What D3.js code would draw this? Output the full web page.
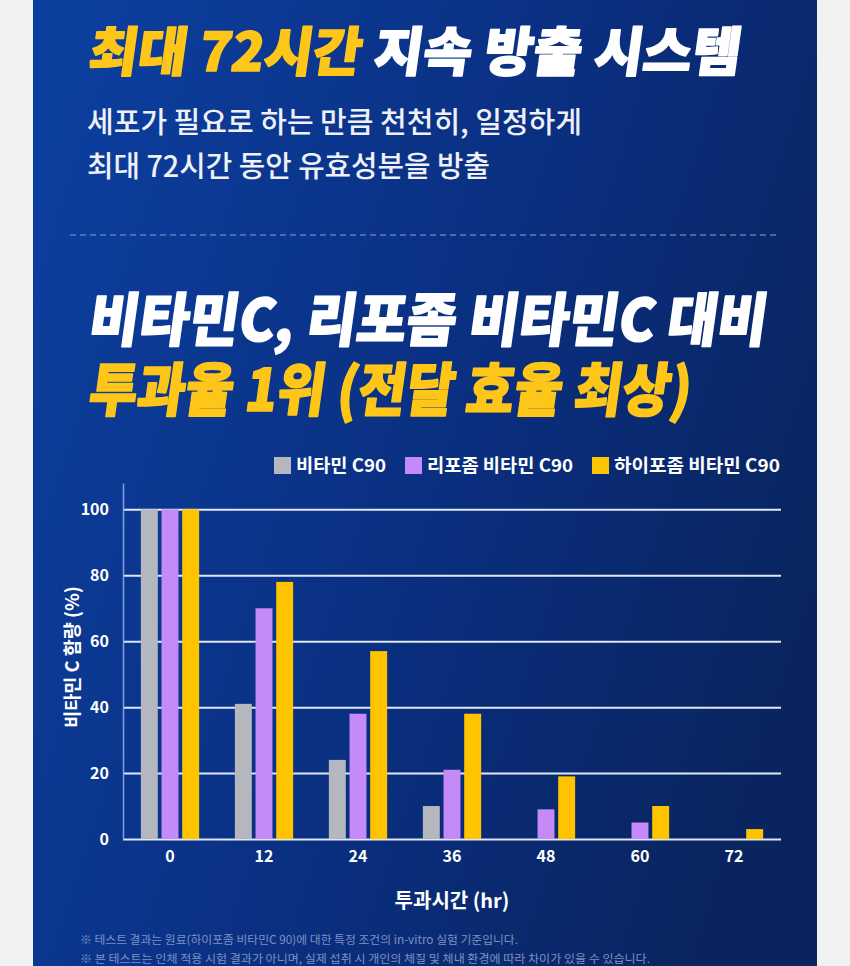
<!DOCTYPE html>
<html>
<head>
<meta charset="utf-8">
<script src="https://cdn.jsdelivr.net/npm/d3@7"></script>
<style>
    body { margin: 0; background: #f1f1f1; }
    svg { display: block; }
</style>
</head>
<body>
<svg id="chart" width="850" height="966"></svg>
<script>
// Data
const hours = ["0", "12", "24", "36", "48", "60", "72"];
const seriesNames = ["비타민 C90", "리포좀 비타민 C90", "하이포좀 비타민 C90"];
const vitaminC = [100, 41, 24, 10, 0, 0, 0];
const liposomeC = [100, 70, 38, 21, 9, 5, 0];
const hyposomeC = [100, 78, 57, 38, 19, 10, 3];
const yTicks = [0, 20, 40, 60, 80, 100];

// Texts
const yTitle = "비타민 C 함량 (%)";
const xTitle = "투과시간 (hr)";
const footnotes = [
    "※ 테스트 결과는 원료(하이포좀 비타민C 90)에 대한 특정 조건의 in-vitro 실험 기준입니다.",
    "※ 본 테스트는 인체 적용 시험 결과가 아니며, 실제 섭취 시 개인의 체질 및 체내 환경에 따라 차이가 있을 수 있습니다."
];

// Style constants
const colors = ["#b4b7be", "#c48af7", "#ffc400"],
        yellow = "#ffc61a",
        font = "'Noto Sans CJK KR', 'Noto Sans', sans-serif";

const margin = {left: 123, right: 781, top: 483, bottom: 839};

var svg = d3.select("#chart");

/**
 * Squeezes a text to a given width (the original fonts are condensed)
 */
function fitText(sel, width) {
    sel.attr("textLength", width).attr("lengthAdjust", "spacingAndGlyphs");
}

// Background panel
var defs = svg.append("defs");
var grad = defs.append("linearGradient")
    .attr("id", "bg").attr("x1", "0").attr("y1", "0.2").attr("x2", "1").attr("y2", "0.6");
grad.append("stop").attr("offset", "0").attr("stop-color", "#0c3e9e");
grad.append("stop").attr("offset", "0.55").attr("stop-color", "#0a2f80");
grad.append("stop").attr("offset", "1").attr("stop-color", "#09245f");

svg.append("rect")
    .attr("x", 33).attr("y", 0)
    .attr("width", 784).attr("height", 966)
    .attr("fill", "url(#bg)");

// Headline 1 (stroke thickens the glyphs a bit)
var h1 = svg.append("g").attr("transform", "translate(87,71) skewX(-8)")
    .append("text")
    .attr("font-family", font).attr("font-weight", 900).attr("font-size", 53)
    .attr("stroke-width", 1.6).attr("stroke-linejoin", "round");
h1.append("tspan").attr("fill", yellow).attr("stroke", yellow).text("최대 72시간 ");
h1.append("tspan").attr("fill", "#ffffff").attr("stroke", "#ffffff").text("지속 방출 시스템");
fitText(h1, 652);

// Sub text
var subLines = ["세포가 필요로 하는 만큼 천천히, 일정하게", "최대 72시간 동안 유효성분을 방출"];
var subWidths = [495, 403];
subLines.forEach(function (s, i) {
    var t = svg.append("text")
        .attr("x", 87).attr("y", 133 + i * 44)
        .attr("font-family", font).attr("font-weight", 500).attr("font-size", 29)
        .attr("fill", "#eef1f8")
        .text(s);
    fitText(t, subWidths[i]);
});

// Dashed separator
svg.append("line")
    .attr("x1", 70).attr("x2", 780).attr("y1", 235).attr("y2", 235)
    .attr("stroke", "#8ea2cc").attr("stroke-width", 1)
    .attr("stroke-dasharray", "6,4");

// Headline 2
var h2a = svg.append("g").attr("transform", "translate(87,341) skewX(-8)")
    .append("text")
    .attr("font-family", font).attr("font-weight", 900).attr("font-size", 58)
    .attr("fill", "#ffffff").attr("stroke", "#ffffff")
    .attr("stroke-width", 1.6).attr("stroke-linejoin", "round")
    .text("비타민C, 리포좀 비타민C 대비");
fitText(h2a, 678);

var h2b = svg.append("g").attr("transform", "translate(87,411) skewX(-8)")
    .append("text")
    .attr("font-family", font).attr("font-weight", 900).attr("font-size", 58)
    .attr("fill", yellow).attr("stroke", yellow)
    .attr("stroke-width", 1.6).attr("stroke-linejoin", "round")
    .text("투과율 1위 (전달 효율 최상)");
fitText(h2b, 602);

// Scales
var x0 = d3.scaleBand()
    .domain(hours)
    .range([margin.left, margin.right])
    .paddingInner(0.38)
    .paddingOuter(0.19);

var x1 = d3.scaleBand()
    .domain(seriesNames)
    .range([0, x0.bandwidth()])
    .paddingInner(0.18);

var y = d3.scaleLinear()
    .domain([0, 108])
    .range([margin.bottom, margin.top]);

// Grid lines
var grid = svg.append("g")
    .attr("transform", "translate(" + margin.left + ",0)")
    .call(d3.axisLeft(y).tickValues(yTicks).tickSize(-(margin.right - margin.left)).tickFormat(""));
grid.select(".domain").remove();
grid.selectAll(".tick line")
    .attr("stroke", "#dfe7f6").attr("stroke-width", 2);

// Bars
var table = hours.map(function (h, i) {
    return {hour: h, values: [vitaminC[i], liposomeC[i], hyposomeC[i]]};
});

var groups = svg.append("g")
    .selectAll("g")
    .data(table)
    .enter()
    .append("g")
    .attr("transform", function (d) { return "translate(" + x0(d.hour) + ",0)"; });

groups.selectAll("rect")
    .data(function (d) {
        return d.values.map(function (v, k) { return {name: seriesNames[k], value: v, k: k}; });
    })
    .enter()
    .append("rect")
    .attr("x", function (d) { return x1(d.name); })
    .attr("y", function (d) { return y(d.value); })
    .attr("width", x1.bandwidth())
    .attr("height", function (d) { return y(0) - y(d.value); })
    .attr("fill", function (d) { return colors[d.k]; });

// Y axis
var yAxis = svg.append("g")
    .attr("transform", "translate(" + margin.left + ",0)")
    .call(d3.axisLeft(y).tickValues(yTicks).tickSize(0).tickSizeOuter(0).tickPadding(14));
yAxis.select(".domain").attr("stroke", "#7fa2e2").attr("stroke-width", 1.5);
yAxis.selectAll("text")
    .attr("fill", "#ffffff")
    .attr("font-family", font).attr("font-weight", 700).attr("font-size", 16);

// X axis
var xAxis = svg.append("g")
    .attr("transform", "translate(0," + margin.bottom + ")")
    .call(d3.axisBottom(x0).tickSize(0).tickPadding(12));
xAxis.select(".domain").remove();
xAxis.selectAll("text")
    .attr("fill", "#ffffff")
    .attr("font-family", font).attr("font-weight", 700).attr("font-size", 16);

// Axis titles
svg.append("text")
    .attr("transform", "translate(79," + ((margin.top + margin.bottom) / 2 - 4) + ") rotate(-90)")
    .attr("text-anchor", "middle")
    .attr("fill", "#ffffff")
    .attr("font-family", font).attr("font-weight", 700).attr("font-size", 18.5)
    .text(yTitle);

svg.append("text")
    .attr("x", (margin.left + margin.right) / 2).attr("y", 908)
    .attr("text-anchor", "middle")
    .attr("fill", "#ffffff")
    .attr("font-family", font).attr("font-weight", 700).attr("font-size", 20)
    .text(xTitle);

// Legend
var legendWidths = [90, 146, 166];
var legend = svg.append("g");
var lx = 274;
seriesNames.forEach(function (name, i) {
    legend.append("rect")
        .attr("x", lx).attr("y", 457)
        .attr("width", 17).attr("height", 17)
        .attr("fill", colors[i]);
    var t = legend.append("text")
        .attr("x", lx + 22).attr("y", 472)
        .attr("fill", "#ffffff")
        .attr("font-family", font).attr("font-weight", 700).attr("font-size", 18)
        .text(name);
    fitText(t, legendWidths[i]);
    lx += 22 + legendWidths[i] + 19;
});

// Footnotes
var footWidths = [438, 570];
footnotes.forEach(function (f, i) {
    var t = svg.append("text")
        .attr("x", 80).attr("y", 944 + i * 19)
        .attr("fill", "#7e92c4")
        .attr("font-family", font).attr("font-size", 11.5)
        .text(f);
    fitText(t, footWidths[i]);
});
</script>
</body>
</html>
